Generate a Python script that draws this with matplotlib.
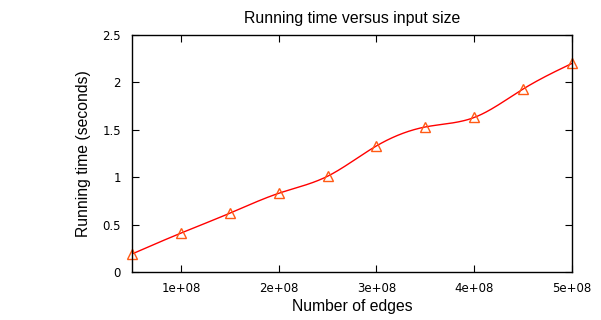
import numpy as np
import matplotlib
matplotlib.use("Agg")
import matplotlib.pyplot as plt

plt.rcParams['font.family'] = ['Liberation Sans', 'DejaVu Sans']

# Количество рёбер и время работы
edges = np.array([5e7, 1e8, 1.5e8, 2e8, 2.5e8, 3e8, 3.5e8, 4e8, 4.5e8, 5e8])
times = np.array([0.19, 0.41, 0.62, 0.83, 1.01, 1.33, 1.53, 1.63, 1.93, 2.20])

xticks = [1e8, 2e8, 3e8, 4e8, 5e8]
xticklabels = ["1e+08", "2e+08", "3e+08", "4e+08", "5e+08"]
yticks = [0, 0.5, 1, 1.5, 2, 2.5]
yticklabels = ["0", "0.5", "1", "1.5", "2", "2.5"]


# Натуральный кубический сплайн (как smooth csplines в gnuplot)
def NaturalSpline(x, y, xs):
    n = len(x)
    h = np.diff(x)
    M = np.zeros((n, n))
    r = np.zeros(n)
    M[0, 0] = 1.
    M[-1, -1] = 1.
    for i in range(1, n - 1):
        M[i, i - 1] = h[i - 1]
        M[i, i] = 2 * (h[i - 1] + h[i])
        M[i, i + 1] = h[i]
        r[i] = 6 * ((y[i + 1] - y[i]) / h[i] - (y[i] - y[i - 1]) / h[i - 1])
    c = np.linalg.solve(M, r)
    ys = np.zeros_like(xs)
    for k, t in enumerate(xs):
        i = min(max(np.searchsorted(x, t) - 1, 0), n - 2)
        a = x[i + 1] - t
        b = t - x[i]
        ys[k] = (c[i] * a ** 3 + c[i + 1] * b ** 3) / (6 * h[i]) \
            + (y[i] / h[i] - c[i] * h[i] / 6) * a + (y[i + 1] / h[i] - c[i + 1] * h[i] / 6) * b
    return ys


xs = np.linspace(edges[0], edges[-1], 400)
ys = NaturalSpline(edges, times, xs)

fig = plt.figure(figsize=(6.01, 3.2), dpi=100)
ax = fig.add_axes([0.2196, 0.15, 0.7321, 0.7406])
ax.plot(xs, ys, color='#ff0000', lw=1)
ax.plot(edges, times, ls='none', marker='^', ms=7, mfc='none', mec='#ff5a14', mew=1, clip_on=False)

ax.set_xlim(edges[0], edges[-1])
ax.set_ylim(0, 2.5)
ax.set_xticks(xticks)
ax.set_xticklabels(xticklabels, family='DejaVu Sans')
ax.set_yticks(yticks)
ax.set_yticklabels(yticklabels, family='DejaVu Sans')
ax.tick_params(direction='in', top=True, right=True, length=5, labelsize=8.5)
ax.tick_params(axis='x', pad=7)
ax.tick_params(axis='y', pad=8)
for s in ax.spines.values():
    s.set_linewidth(1)

ax.set_title("Running time versus input size", fontsize=11.4, pad=9)
ax.set_xlabel("Number of edges", fontsize=11.3, labelpad=3)
ax.set_ylabel("Running time (seconds)", fontsize=11.3, labelpad=8)

fig.savefig("out.png", dpi=100)
